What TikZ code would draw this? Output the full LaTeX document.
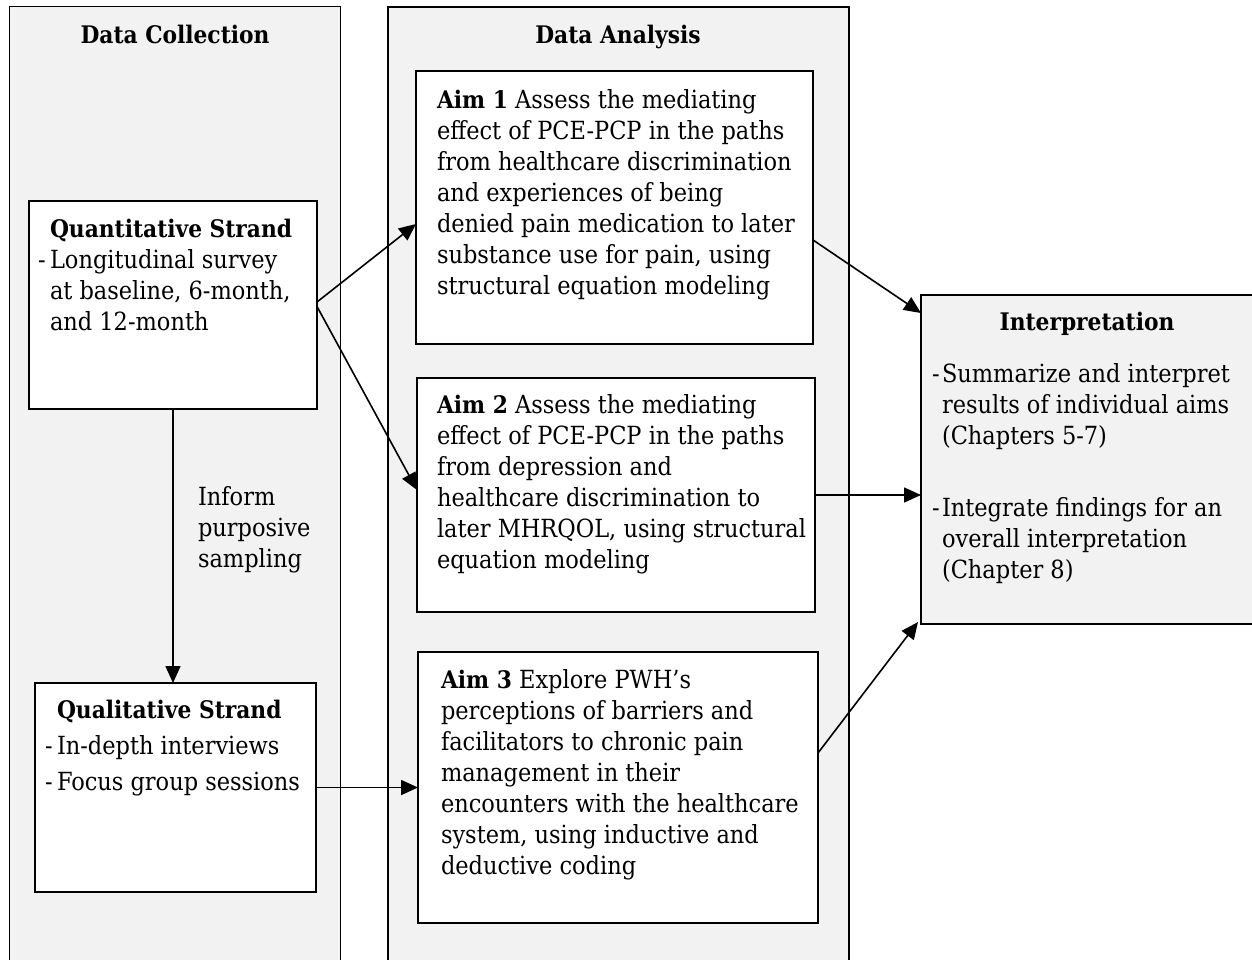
\documentclass[tikz,border=0pt]{standalone}
\usepackage{fontspec}
\setmainfont{DejaVu Serif Condensed}[BoldFont={DejaVu Serif Condensed Bold},BoldFeatures={Scale=0.968}]
\usetikzlibrary{arrows.meta}
\definecolor{panelgray}{gray}{0.949}
\newcommand{\hdash}[1]{\makebox[#1][l]{-}}
\newcommand{\hpad}[1]{\hspace*{#1}}
\begin{document}
\begin{tikzpicture}[x=1pt,y=-1pt,
  every node/.style={inner sep=0pt, outer sep=0pt, font=\fontsize{25}{31}\selectfont},
  panel/.style={draw, line width=1.3pt, fill=panelgray, anchor=north west},
  box/.style={draw, line width=1.5pt, fill=white, anchor=north west},
  greybox/.style={draw, line width=1.5pt, fill=panelgray, anchor=north west},
  txt/.style={anchor=base west},
  heading/.style={anchor=base, font=\fontsize{25}{31}\selectfont\bfseries},
  link/.style={line width=1.6pt, -{Triangle[length=17pt,width=15pt]}}
]
\useasboundingbox (0,0) rectangle (1252,959);
\clip (0,0) rectangle (1252,959);

% column panels
\node[panel, minimum width=331pt, minimum height=980pt] (dc) at (9.5,6.5) {};
\node[panel, minimum width=461pt, minimum height=980pt] (da) at (388,7) {};

% boxes
\node[box, minimum width=288pt, minimum height=208pt] (quant) at (29,201) {};
\node[box, minimum width=281pt, minimum height=209pt] (qual) at (35,683) {};
\node[box, minimum width=397pt, minimum height=273pt] (aim1) at (416,71) {};
\node[box, minimum width=398pt, minimum height=234pt] (aim2) at (417,378) {};
\node[box, minimum width=400pt, minimum height=271pt] (aim3) at (418,652) {};
\node[greybox, minimum width=360pt, minimum height=329pt] (interp) at (921,295) {};

% headings
\node[heading] (hdc) at (175,43) {Data Collection};
\node[heading] (hda) at (618,43) {Data Analysis};
\node[heading] (hint) at (1087,330) {Interpretation};

% box texts
\node[txt] (tquant) at (38,237) {\begin{tabular}[t]{@{}l@{}}
\hpad{12pt}\textbf{Quantitative Strand}\\
\hdash{12pt}Longitudinal survey\\
\hpad{12pt}at baseline, 6-month,\\
\hpad{12pt}and 12-month
\end{tabular}};

\node[txt] (tqual) at (45,718) {\begin{tabular}[t]{@{}l@{}}
\hpad{12pt}\textbf{Qualitative Strand}\\[5pt]
\hdash{12pt}In-depth interviews\\[5pt]
\hdash{12pt}Focus group sessions
\end{tabular}};

\node[txt] (tinform) at (198,505) {\begin{tabular}[t]{@{}l@{}}
Inform\\ purposive\\ sampling
\end{tabular}};

\node[txt] (taim1) at (437,108) {\begin{tabular}[t]{@{}l@{}}
\textbf{Aim 1} Assess the mediating\\
effect of PCE-PCP in the paths\\
from healthcare discrimination\\
and experiences of being\\
denied pain medication to later\\
substance use for pain, using\\
structural equation modeling
\end{tabular}};

\node[txt] (taim2) at (437,413) {\begin{tabular}[t]{@{}l@{}}
\textbf{Aim 2} Assess the mediating\\
effect of PCE-PCP in the paths\\
from depression and\\
healthcare discrimination to\\
later MHRQOL, using structural\\
equation modeling
\end{tabular}};

\node[txt] (taim3) at (441,688) {\begin{tabular}[t]{@{}l@{}}
\textbf{Aim 3} Explore PWH’s\\
perceptions of barriers and\\
facilitators to chronic pain\\
management in their\\
encounters with the healthcare\\
system, using inductive and\\
deductive coding
\end{tabular}};

\node[txt] (tinterp) at (932,382) {\begin{tabular}[t]{@{}l@{}}
\hdash{10pt}Summarize and interpret\\
\hpad{10pt}results of individual aims\\
\hpad{10pt}(Chapters 5-7)\\[41pt]
\hdash{10pt}Integrate findings for an\\
\hpad{10pt}overall interpretation\\
\hpad{10pt}(Chapter 8)
\end{tabular}};

% connectors
\draw[link] ([yshift=3pt]quant.east) -- ([yshift=-16.5pt]aim1.west);
\draw[link] ([yshift=-1.5pt]quant.east) -- ([yshift=5pt]aim2.west);
\draw[link] (quant.south) -- (quant.south |- qual.north);
\draw[link] (qual.east) -- (aim3.west);
\draw[link] ([yshift=-32.5pt]aim1.east) -- ([yshift=146.5pt]interp.west);
\draw[link] (aim2.east) -- (aim2.east -| interp.west);
\draw[link] ([yshift=34.5pt]aim3.east) -- ([xshift=-3pt,yshift=2pt]interp.south west);
\end{tikzpicture}
\end{document}
